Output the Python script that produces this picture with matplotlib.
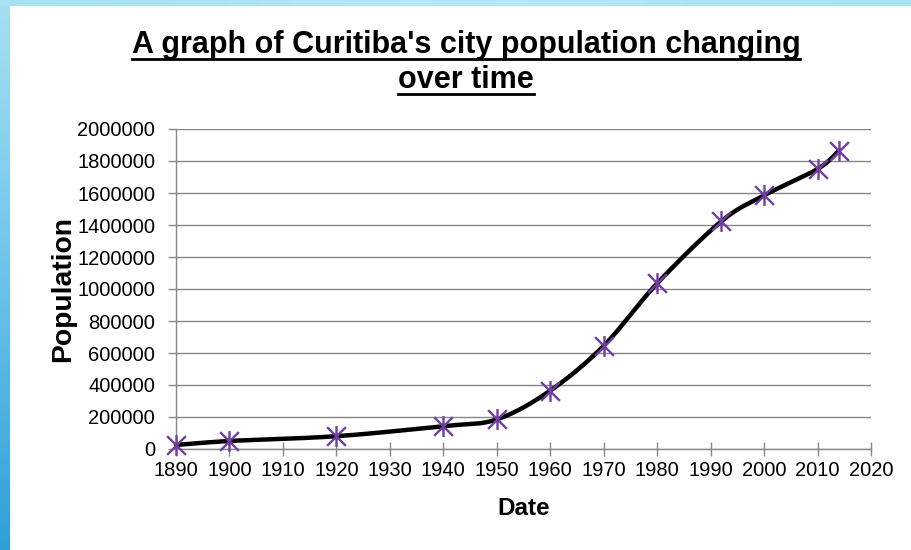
import numpy as np
import matplotlib
matplotlib.use("Agg")
import matplotlib.pyplot as plt
from matplotlib.path import Path
from matplotlib.lines import Line2D
from matplotlib.colors import LinearSegmentedColormap

# ---- data ----
years = [1890, 1900, 1920, 1940, 1950, 1960, 1970, 1980, 1992, 2000, 2010, 2014]
population = [25000, 50000, 80000, 143000, 185000, 365000, 645000, 1035000,
              1423000, 1585000, 1750000, 1865000]
x_ticks = list(range(1890, 2021, 10))
y_ticks = list(range(0, 2000001, 200000))
title_lines = ["A graph of Curitiba's city population changing", "over time"]
x_label = "Date"
y_label = "Population"

FONT = ["Liberation Sans", "DejaVu Sans"]
plt.rcParams['font.family'] = FONT

W, H = 911, 550
fig = plt.figure(figsize=(W / 100, H / 100), dpi=100)
fig.patch.set_facecolor("white")

# ---- blue frame (left gradient strip + top strip) ----
bg = fig.add_axes([0, 0, 1, 1], zorder=-10)
bg.set_axis_off()
grad = np.linspace(0, 1, 256).reshape(-1, 1)
cmap = LinearSegmentedColormap.from_list("b", ["#a6e0f2", "#6cc4ea", "#2f9fd8"])
bg.imshow(grad, cmap=cmap, extent=[0, 10, H, 0], aspect="auto")
top = np.linspace(0, 1, 256).reshape(1, -1)
cmap2 = LinearSegmentedColormap.from_list("t", ["#a6e0f2", "#b4e8f6", "#a8e2f4"])
bg.imshow(top, cmap=cmap2, extent=[0, W, 6, 0], aspect="auto")
bg.set_xlim(0, W)
bg.set_ylim(H, 0)

# ---- plot axes ----
L, R, B, T = 176, 871, 449, 129
ax = fig.add_axes([L / W, 1 - B / H, (R - L) / W, (B - T) / H])
ax.set_xlim(1890, 2020)
ax.set_ylim(0, 2000000)
ax.set_xticks(x_ticks)
ax.set_yticks(y_ticks)
ax.set_xticklabels([str(v) for v in x_ticks], fontsize=14.5)
ax.set_yticklabels([str(v) for v in y_ticks], fontsize=14.5)
ax.tick_params(axis="x", direction="inout", length=10, width=1, color="#888888", pad=4)
ax.tick_params(axis="y", direction="out", length=6, width=1, color="#888888", pad=9)
for s in ["top", "right"]:
    ax.spines[s].set_visible(False)
for s in ["left", "bottom"]:
    ax.spines[s].set_color("#888888")
    ax.spines[s].set_linewidth(1)
ax.grid(axis="y", color="#888888", linewidth=1)
ax.set_axisbelow(True)

ax.set_xlabel(x_label, fontsize=17.5, fontweight="bold", labelpad=12)
ax.set_ylabel(y_label, fontsize=20.3, fontweight="bold", labelpad=1)

# ---- smoothed line (Excel-like Bezier through the data points) ----
xs = np.array(years, float)
ys = np.array(population, float)
sx = (R - L) / (2020 - 1890)
sy = (B - T) / 2000000.0
P = np.column_stack([xs * sx, ys * sy])
n = len(P)
curve = []
t = np.linspace(0, 1, 40)
for i in range(n - 1):
    p0 = P[i - 1] if i > 0 else P[i]
    p1, p2 = P[i], P[i + 1]
    p3 = P[i + 2] if i + 2 < n else P[i + 1]
    c1 = p1 + (p2 - p0) / 6.0
    c2 = p2 - (p3 - p1) / 6.0
    seg = ((1 - t) ** 3)[:, None] * p1 + (3 * (1 - t) ** 2 * t)[:, None] * c1 \
        + (3 * (1 - t) * t ** 2)[:, None] * c2 + (t ** 3)[:, None] * p2
    curve.append(seg if i == 0 else seg[1:])
curve = np.vstack(curve)
ax.plot(curve[:, 0] / sx, curve[:, 1] / sy, color="black", linewidth=3.2,
        solid_capstyle="round", zorder=3, clip_on=False)

# asterisk marker: vertical bar + X
star = Path([(0, -1), (0, 1), (-0.9, -0.9), (0.9, 0.9), (-0.9, 0.9), (0.9, -0.9)],
            [Path.MOVETO, Path.LINETO, Path.MOVETO, Path.LINETO, Path.MOVETO, Path.LINETO])
ax.plot(years, population, linestyle="none", marker=star, markersize=15,
        markeredgewidth=1.7, markeredgecolor="#6f3fa0", markerfacecolor="none",
        zorder=4, clip_on=False)

# ---- underlined title (one text per line, baseline-positioned) ----
TFS = 22
baselines = [53.5, 88.5]   # pixel rows from top
for line, yb in zip(title_lines, baselines):
    fig.text(466 / W, 1 - yb / H, line, ha="center", va="baseline",
             fontsize=TFS, fontweight="bold")
fig.canvas.draw()
r = fig.canvas.get_renderer()
for line, yb in zip(title_lines, baselines):
    tmp = fig.text(0, 0, line, fontsize=TFS, fontweight="bold")
    wb = tmp.get_window_extent(r)
    tmp.remove()
    yu = H - (yb + 5)
    fig.add_artist(Line2D([(466 - wb.width / 2) / W, (466 + wb.width / 2) / W],
                          [yu / H, yu / H], color="black", linewidth=2.0,
                          transform=fig.transFigure))

fig.savefig("out.png", dpi=100, facecolor="white")
